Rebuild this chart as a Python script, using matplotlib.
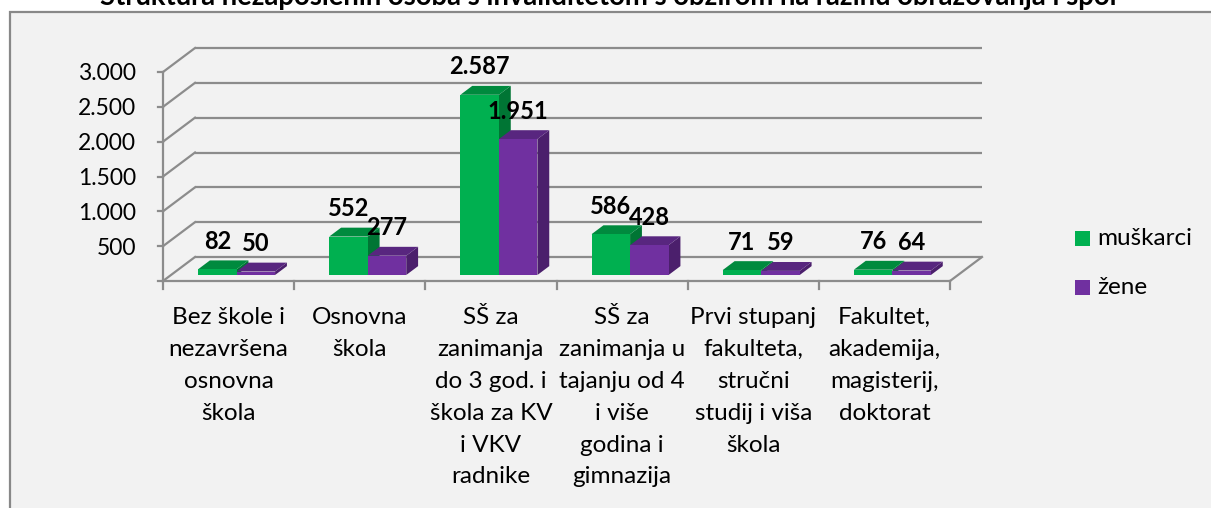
import matplotlib
matplotlib.use("Agg")
import matplotlib.pyplot as plt
from matplotlib.patches import Polygon, Rectangle

# ---------------- data ----------------
categories = [
    "Bez škole i\nnezavršena\nosnovna\nškola",
    "Osnovna\nškola",
    "SŠ za\nzanimanja\ndo 3 god. i\nškola za KV\ni VKV\nradnike",
    "SŠ za\nzanimanja u\ntajanju od 4\ni više\ngodina i\ngimnazija",
    "Prvi stupanj\nfakulteta,\nstručni\nstudij i viša\nškola",
    "Fakultet,\nakademija,\nmagisterij,\ndoktorat",
]
muskarci = [82, 552, 2587, 586, 71, 76]
zene = [50, 277, 1951, 428, 59, 64]
series_names = ["muškarci", "žene"]
y_ticks = [0, 500, 1000, 1500, 2000, 2500, 3000]
title = "Struktura nezaposlenih osoba s invaliditetom s obzirom na razinu obrazovanja i spol"

# ---------------- styling ----------------
W, H = 1211, 508
FONT = ["Lato", "DejaVu Sans"]
plt.rcParams["font.family"] = FONT

green = ("#00B050", "#008A3E", "#007534")   # front, top, side
purple = ("#7030A0", "#58267F", "#4B1F6C")
grid_c = "#8c8c8c"

fig = plt.figure(figsize=(W / 100, H / 100), dpi=100)
fig.patch.set_facecolor("white")

# pixel geometry of the plot (front plane)
px_x0, px_x6 = 163.0, 950.0      # category axis ends
px_y0, px_y3000 = 281.0, 72.0    # value axis 0 and 3000
sx = (px_x6 - px_x0) / len(categories)   # px per category
sy = (px_y0 - px_y3000) / 3000.0          # px per unit

ax = fig.add_axes([0, 0, 1, 1])
ax.set_xlim((0 - px_x0) / sx, (W - px_x0) / sx)
ax.set_ylim((px_y0 - H) / sy, px_y0 / sy)
ax.axis("off")

# chart area background + border
ax.add_patch(Rectangle(((10 - px_x0) / sx, (px_y0 - 520) / sy),
                       (1300 - 10) / sx, (520 - 12) / sy,
                       facecolor="#F2F2F2", edgecolor="#888888", lw=1.6, zorder=0))

DX = 32 / sx   # full depth offset (x)
DY = 24 / sy   # full depth offset (y)
n = len(categories)
lw = 1.6

# back wall gridlines, side wall lines, front value axis
for v in y_ticks:
    ax.plot([DX, n + DX], [v + DY, v + DY], color=grid_c, lw=lw, zorder=1,
            solid_capstyle="butt")
    ax.plot([0, DX], [v, v + DY], color=grid_c, lw=lw, zorder=1)
    ax.plot([-5 / sx, 0], [v, v], color=grid_c, lw=lw, zorder=1)
    if v > 0:
        ax.text(-27 / sx, v - 2 / sy, f"{v:,}".replace(",", "."), ha="right",
                va="center", fontsize=16.5, color="black", zorder=5)
ax.plot([0, 0], [0, y_ticks[-1]], color=grid_c, lw=lw, zorder=1)
# floor
ax.plot([0, n], [0, 0], color=grid_c, lw=lw, zorder=1)
ax.plot([n, n + DX], [0, DY], color=grid_c, lw=lw, zorder=1)
for i in range(n + 1):
    ax.plot([i, i], [0, -8 / sy], color=grid_c, lw=lw, zorder=1)

# bars
f_front, f_back = 0.25, 0.62
bw = 38.5 / sx


def draw_bar(x0, val, cols, z):
    fx, fy = f_front * DX, f_front * DY
    bx, by = f_back * DX, f_back * DY
    front = [(x0 + fx, fy), (x0 + bw + fx, fy), (x0 + bw + fx, val + fy), (x0 + fx, val + fy)]
    top = [(x0 + fx, val + fy), (x0 + bw + fx, val + fy), (x0 + bw + bx, val + by), (x0 + bx, val + by)]
    side = [(x0 + bw + fx, fy), (x0 + bw + bx, by), (x0 + bw + bx, val + by), (x0 + bw + fx, val + fy)]
    ax.add_patch(Polygon(side, closed=True, facecolor=cols[2], edgecolor="none", zorder=z))
    ax.add_patch(Polygon(top, closed=True, facecolor=cols[1], edgecolor="none", zorder=z))
    ax.add_patch(Polygon(front, closed=True, facecolor=cols[0], edgecolor="none", zorder=z))
    return x0 + fx + bw / 2, val + fy


for i in range(n):
    c = i + 0.5
    gx, gy = draw_bar(c - bw, muskarci[i], green, 2)
    px_, py_ = draw_bar(c, zene[i], purple, 3)
    ax.text(gx, gy + 28 / sy, f"{muskarci[i]:,}".replace(",", "."), ha="center",
            va="center", fontsize=17, fontweight="bold", zorder=6)
    ax.text(px_, py_ + 28 / sy, f"{zene[i]:,}".replace(",", "."), ha="center",
            va="center", fontsize=17, fontweight="bold", zorder=6)
    ax.text(c, -(307 - px_y0) / sy, categories[i], ha="center", va="top",
            fontsize=17.5, linespacing=1.64, zorder=5)

# legend
for k, (name, col) in enumerate(zip(series_names, [green[0], purple[0]])):
    cy = 238.5 + 49 * k
    ax.add_patch(Rectangle(((1075 - px_x0) / sx, (px_y0 - cy - 7.5) / sy),
                           15 / sx, 15 / sy, facecolor=col, edgecolor="none", zorder=5))
    ax.text((1097 - px_x0) / sx, (px_y0 - cy) / sy, name, ha="left", va="center",
            fontsize=17.5, zorder=5)

# title (partially cut off at the top, as in the reference)
fig.text(608 / W, 1 - 5 / H, title, ha="center", va="baseline",
         fontsize=19.8, fontweight="bold")

fig.savefig("out.png", dpi=100, facecolor="white")
